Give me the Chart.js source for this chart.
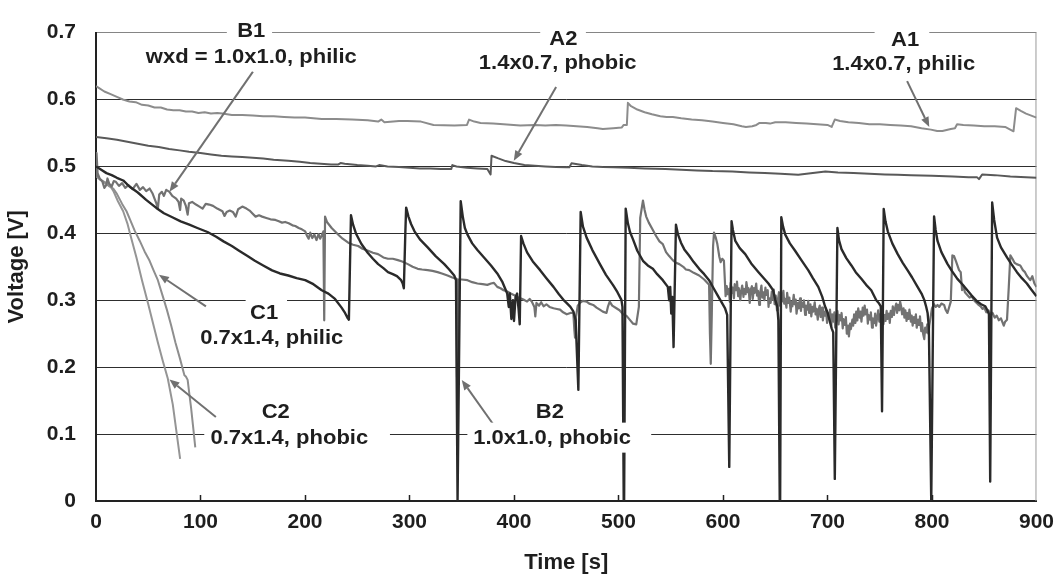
<!DOCTYPE html>
<html>
<head>
<meta charset="utf-8">
<title>Cell voltage vs time</title>
<script src="https://cdn.jsdelivr.net/npm/chart.js@4.4.1/dist/chart.umd.min.js"></script>
<style>
  html, body { margin: 0; padding: 0; background: #fff; }
  #voltageChart { display: block; }
</style>
</head>
<body>
<canvas id="voltageChart" width="1063" height="574"></canvas>
<script>
// Voltage traces, [time s, voltage V]

const A1_PHILIC = [
  [0,0.620],[3,0.617],[8,0.612],[14,0.608],[20,0.604],[25.7,0.600],[32,0.597],[38,0.596],[44,0.592],
  [50,0.591],[56,0.588],[62,0.588],[68,0.585],[74,0.584],[80,0.584],[86,0.582],[92,0.582],[98,0.580],
  [104,0.581],[110,0.579],[116,0.580],[121,0.579],[130,0.577],[140,0.577],[150,0.576],[160,0.575],
  [170,0.575],[180,0.574],[190,0.573],[200,0.573],[216,0.571],[230,0.571],[245,0.570],[260,0.569],
  [270,0.567],[273,0.570],[276,0.566],[290,0.568],[298,0.568],[311,0.567],[323,0.562],[343,0.561],
  [355,0.562],[357,0.570],[362,0.567],[368,0.565],[380,0.564],[390,0.563],[406,0.561],[420,0.562],
  [430,0.561],[440,0.562],[450,0.561],[460,0.560],[470,0.559],[480,0.557],[485,0.556],[495,0.557],
  [503,0.558],[505,0.562],[508,0.562],[509,0.595],[512,0.590],[518,0.585],[525,0.581],[532,0.578],
  [540,0.575],[546,0.574],[552,0.574],[560,0.572],[570,0.570],[580,0.569],[590,0.567],[600,0.565],
  [610,0.563],[618,0.560],[622,0.559],[628,0.560],[632,0.562],[635,0.565],[641,0.565],[645,0.564],
  [650,0.566],[660,0.566],[670,0.565],[680,0.564],[690,0.563],[700,0.562],[704,0.559],[707,0.570],
  [712,0.568],[720,0.566],[730,0.565],[740,0.563],[750,0.563],[760,0.562],[770,0.561],[780,0.560],
  [790,0.557],[799,0.555],[805,0.553],[810,0.553],[818,0.556],[822,0.557],[824,0.563],[830,0.562],
  [840,0.561],[850,0.560],[860,0.560],[870,0.559],[878,0.5525],[880.5,0.587],[885,0.583],
  [890,0.579],[895,0.576],[900,0.573]
];

const A2_PHOBIC = [
  [0,0.544],[10,0.542],[20,0.540],[30,0.537],[40,0.534],[50,0.531],[60,0.529],[70,0.526],[80,0.524],
  [89,0.522],[100,0.520],[110,0.518],[120,0.516],[130,0.515],[140,0.514],[150,0.513],[160,0.512],
  [170,0.510],[184,0.5085],[195,0.507],[205,0.505],[215,0.504],[225,0.503],[232,0.503],[234,0.505],
  [238,0.504],[250,0.502],[260,0.501],[268,0.500],[271,0.502],[279,0.500],[290,0.499],[300,0.498],
  [310,0.497],[320,0.497],[330,0.496],[340,0.496],[341,0.502],[345,0.500],[355,0.498],[365,0.497],
  [374.5,0.496],[377.6,0.488],[378.5,0.516],[385,0.512],[392,0.508],[400,0.505],[410,0.502],
  [420,0.501],[430,0.500],[440,0.499],[450,0.4987],[453,0.4987],[455,0.5046],[465,0.502],[475,0.500],
  [485,0.499],[495,0.4987],[510,0.498],[525,0.497],[545,0.4963],[560,0.495],[575,0.494],[590,0.493],
  [609,0.4924],[625,0.491],[640,0.490],[655,0.489],[672,0.4875],[680,0.489],[690,0.491],[698,0.4924],
  [710,0.491],[725,0.490],[740,0.489],[755,0.488],[767,0.4875],[780,0.487],[800,0.486],[820,0.485],
  [835,0.484],[843,0.484],[845,0.481],[848,0.488],[860,0.487],[875,0.485],[890,0.484],[900,0.483]
];

const B1_PHILIC = [
  [0,0.485],[0.5,0.520],[1.5,0.490],[3.5,0.482],[6,0.478],[8,0.468],[9.8,0.472],[11,0.482],[12.7,0.474],
  [15,0.470],[17,0.478],[19,0.477],[22,0.471],[25,0.475],[28,0.468],[31,0.472],[35,0.466],[38.7,0.474],
  [42,0.465],[45,0.469],[48,0.463],[51.3,0.467],[54,0.460],[56,0.452],[57.5,0.446],[59.2,0.437],
  [60.5,0.458],[63,0.462],[65,0.456],[67.2,0.465],[70.3,0.462],[73,0.456],[76.7,0.452],[79,0.447],
  [80.5,0.435],[81.5,0.452],[84,0.449],[86,0.441],[87.7,0.428],[89,0.445],[92,0.447],[95.7,0.443],
  [99,0.440],[102,0.437],[105,0.444],[108.3,0.443],[112,0.441],[116,0.437],[121,0.433],[123,0.426],
  [125,0.432],[128,0.434],[131,0.432],[133.7,0.425],[136,0.436],[140,0.440],[144,0.437],[147,0.434],
  [149.5,0.430],[152.7,0.425],[156,0.427],[159,0.425],[163,0.423],[167,0.421],[171.7,0.420],
  [175,0.418],[178,0.416],[181,0.417],[184.4,0.415],[188,0.412],[190.7,0.411],[194,0.408],[197,0.406],
  [200.2,0.403],[202,0.396],[203.5,0.392],[205,0.401],[207,0.393],[209,0.398],[211,0.390],[213,0.399],
  [214.5,0.392],[216,0.397],[217.6,0.403],[218.4,0.270],[219.2,0.425],[221,0.417],[225.5,0.408],
  [231.9,0.398],[236,0.392],[241.4,0.386],[246,0.383],[250.9,0.381],[255,0.377],[260.4,0.374],
  [265,0.371],[269.9,0.369],[275,0.364],[279.4,0.362],[284,0.362],[288.9,0.360],[293,0.358],
  [298.4,0.354],[303,0.350],[307.9,0.347],[312,0.346],[317.4,0.345],[322,0.344],[326.9,0.342],
  [331,0.340],[336.4,0.337],[341,0.334],[345,0.332],[345.5,0.185],[346.3,0.331],[350,0.331],
  [355.5,0.330],[360,0.327],[365,0.325],[370,0.324],[374.5,0.323],[378,0.325],[380.8,0.326],
  [384,0.320],[387.1,0.318],[390,0.315],[393.5,0.313],[397,0.310],[399.8,0.308],[403,0.305],
  [406.1,0.303],[409,0.301],[412.5,0.298],[415,0.302],[417,0.298],[419.5,0.290],[420.4,0.276],
  [421.5,0.296],[424,0.292],[426,0.297],[428.3,0.291],[431,0.294],[434,0.290],[437.8,0.288],
  [441,0.287],[444.1,0.286],[447,0.282],[450.5,0.279],[454,0.281],[456.8,0.281],[457.8,0.255],
  [458.4,0.244],[459.3,0.275],[461,0.292],[463.1,0.296],[466,0.299],[469.5,0.298],[472,0.295],
  [475.8,0.293],[479,0.289],[482.1,0.286],[485,0.283],[488.5,0.281],[490,0.291],[491.6,0.298],
  [494,0.292],[498,0.288],[501,0.285],[504.4,0.279],[507.5,0.277],[510.7,0.271],[514,0.265],
  [517,0.264],[519.5,0.290],[520.8,0.423],[523.4,0.449],[525,0.435],[526.5,0.425],[529,0.416],
  [532.9,0.405],[536,0.396],[539.2,0.388],[542.4,0.384],[545.5,0.372],[548.5,0.366],[551.9,0.360],
  [555,0.356],[558.2,0.354],[562,0.350],[564.5,0.346],[567.7,0.345],[572,0.341],[577.2,0.337],
  [582,0.331],[586.7,0.323],[587.5,0.250],[588.3,0.205],[589.3,0.280],[590.5,0.380],[591.4,0.401],
  [593,0.394],[594.6,0.384],[596.5,0.365],[597.8,0.357],[599.3,0.362],[600.9,0.359],[602.5,0.306],
  [603.6,0.321],[604.4,0.309],[605.7,0.317],[606.5,0.298],[607.4,0.326],[608.6,0.311],[609.3,0.319],
  [610.5,0.303],[611.2,0.324],[612.6,0.315],[613.4,0.328],[614.5,0.306],[615.1,0.318],[616.6,0.300],
  [617.3,0.313],[618.4,0.322],[619.6,0.305],[620.2,0.317],[621.7,0.309],[622.4,0.327],[623.8,0.312],
  [624.5,0.318],[625.6,0.296],[626.4,0.315],[627.7,0.321],[628.5,0.302],[629.6,0.318],[630.4,0.311],
  [631.8,0.325],[632.6,0.307],[633.5,0.314],[634.7,0.293],[635.4,0.309],[636.8,0.322],[637.6,0.304],
  [638.5,0.312],[639.7,0.300],[640.6,0.319],[641.4,0.308],[642.8,0.315],[643.6,0.290],[644.4,0.303],
  [645.6,0.296],[646.7,0.313],[647.5,0.301],[648.6,0.316],[649.4,0.294],[650.5,0.307],[651.7,0.285],
  [652.4,0.299],[653.6,0.312],[654.5,0.292],[655.7,0.305],[656.4,0.298],[657.8,0.314],[658.6,0.295],
  [659.5,0.302],[660.7,0.289],[661.4,0.311],[662.6,0.296],[663.5,0.304],[664.8,0.283],[665.6,0.298],
  [666.4,0.291],[667.7,0.308],[668.5,0.294],[669.6,0.301],[670.4,0.280],[671.7,0.296],[672.5,0.288],
  [673.8,0.303],[674.6,0.284],[675.4,0.297],[676.7,0.290],[677.5,0.300],[678.6,0.278],[679.4,0.292],
  [680.8,0.286],[681.6,0.299],[682.4,0.281],[683.7,0.294],[684.5,0.276],[685.6,0.290],[686.4,0.283],
  [687.8,0.297],[688.6,0.279],[689.5,0.287],[690.7,0.271],[691.5,0.286],[692.6,0.292],[693.4,0.275],
  [694.8,0.289],[695.6,0.270],[696.5,0.283],[697.7,0.277],[698.4,0.288],[699.6,0.266],[700.5,0.281],
  [701.7,0.273],[702.4,0.286],[703.6,0.262],[704.5,0.279],[705.8,0.268],[706.6,0.282],[707.4,0.259],
  [708.7,0.276],[709.5,0.284],[710.6,0.264],[711.4,0.278],[712.7,0.270],[713.5,0.281],[714.6,0.258],
  [715.4,0.272],[716.8,0.263],[717.6,0.275],[718.5,0.250],[719.7,0.262],[720.5,0.246],[721.6,0.265],
  [722.4,0.257],[723.8,0.271],[724.6,0.262],[725.5,0.279],[726.7,0.266],[727.5,0.283],[728.6,0.270],
  [729.4,0.288],[730.8,0.274],[731.6,0.283],[732.5,0.268],[733.7,0.289],[734.5,0.277],[735.6,0.292],
  [736.4,0.279],[737.8,0.286],[738.6,0.265],[739.5,0.278],[740.7,0.271],[741.5,0.282],[742.6,0.259],
  [743.4,0.273],[744.8,0.266],[745.6,0.280],[746.5,0.262],[747.7,0.276],[748.5,0.285],[749.6,0.268],
  [750.4,0.279],[751.8,0.258],[752.6,0.271],[753.5,0.264],[754.7,0.278],[755.5,0.269],[756.6,0.284],
  [757.4,0.272],[758.8,0.280],[759.6,0.266],[760.5,0.284],[761.7,0.275],[762.5,0.291],[763.6,0.278],
  [764.4,0.287],[765.8,0.295],[766.6,0.281],[767.5,0.293],[768.7,0.285],[769.5,0.298],[770.6,0.290],
  [771.4,0.279],[772.8,0.288],[773.6,0.274],[774.5,0.285],[775.7,0.269],[776.5,0.281],[777.6,0.272],
  [778.4,0.286],[779.8,0.268],[780.6,0.277],[781.5,0.262],[782.7,0.275],[783.5,0.266],[784.6,0.279],
  [785.4,0.259],[786.8,0.271],[787.6,0.263],[788.5,0.276],[789.7,0.254],[790.5,0.266],[791.6,0.249],
  [792.6,0.242],[793.5,0.259],[794.7,0.252],[795.5,0.264],[796.6,0.250],[797.4,0.262],[798.8,0.276],
  [800,0.288],[802,0.294],[803.5,0.290],[805.3,0.293],[807,0.290],[809,0.295],[811.6,0.293],
  [813,0.286],[814.8,0.281],[816.5,0.290],[818,0.298],[819.5,0.367],[821.1,0.366],[823,0.358],
  [825.9,0.345],[827.5,0.342],[828.8,0.315],[830,0.322],[831.5,0.312],[833.8,0.308],[836,0.304],
  [838,0.306],[840.2,0.300],[842,0.297],[844,0.294],[846.5,0.291],[848.5,0.287],[850,0.289],
  [852,0.282],[854,0.285],[856,0.279],[858,0.281],[860,0.274],[862,0.277],[864,0.270],[866,0.273],
  [868.7,0.262],[870,0.268],[871.8,0.271],[873.5,0.320],[875,0.367],[877,0.362],[879,0.356],
  [881,0.354],[884.5,0.352],[887,0.345],[889,0.342],[891,0.336],[894,0.330],[896,0.336],
  [898,0.325],[900,0.320]
];

const B2_PHOBIC = [
  [0,0.500],[5,0.495],[10,0.490],[15,0.487],[20,0.483],[26,0.479],[32,0.470],[40,0.461],[48,0.450],
  [57.7,0.438],[65,0.430],[73,0.424],[81,0.418],[89.3,0.413],[97,0.408],[106.7,0.402],[115,0.395],
  [122,0.388],[130,0.381],[136.9,0.374],[145,0.366],[152,0.359],[160,0.352],[168.5,0.3446],
  [176,0.340],[184,0.337],[192,0.333],[200.2,0.330],[208,0.324],[216,0.315],[222.4,0.310],
  [228.7,0.302],[235,0.289],[238.3,0.281],[241,0.273],[242,0.271],[243,0.350],[244,0.427],
  [246,0.413],[249,0.399],[254,0.384],[260,0.371],[265,0.362],[270,0.354],[275,0.348],[279.4,0.342],
  [284,0.339],[288,0.336],[292,0.330],[293.5,0.325],[294.6,0.318],[296,0.400],[296.8,0.4385],
  [299,0.425],[301.5,0.414],[304.8,0.403],[310,0.391],[317.4,0.379],[325,0.366],[333.3,0.354],
  [338,0.346],[342.8,0.337],[344.5,0.330],[346,0.000],[346.4,0.000],[349,0.448],[351,0.425],
  [353,0.408],[355.5,0.398],[360,0.385],[365,0.375],[371.3,0.364],[378,0.352],[384,0.340],
  [389,0.327],[393.5,0.310],[395,0.290],[396,0.310],[397.5,0.272],[399,0.300],[400,0.269],
  [401.5,0.305],[403,0.310],[404.5,0.285],[405.5,0.264],[406.8,0.396],[409,0.385],[412.5,0.3716],
  [418,0.358],[425,0.345],[431,0.333],[437.8,0.320],[443,0.309],[447.3,0.3006],[450.5,0.2957],
  [454,0.290],[456.8,0.2835],[459,0.270],[461.6,0.166],[463.8,0.432],[466,0.410],[469.5,0.3936],
  [475,0.375],[482.1,0.3544],[488,0.338],[494.8,0.3226],[499,0.312],[502.8,0.3006],[503.8,0.290],
  [505,0.000],[505.4,0.000],[506.9,0.437],[509,0.415],[511,0.402],[513.9,0.391],[518,0.374],
  [523.4,0.359],[528,0.352],[532.9,0.347],[537,0.339],[542.4,0.330],[547.2,0.320],[548.5,0.300],
  [549.5,0.320],[550.5,0.280],[551.5,0.305],[552.7,0.230],[555,0.413],[557,0.398],[559.8,0.386],
  [563,0.376],[567.7,0.3666],[572,0.357],[577.2,0.347],[582,0.339],[586.7,0.330],[591,0.318],
  [594.6,0.308],[599,0.296],[602,0.288],[604,0.278],[606,0.051],[608.2,0.418],[609.5,0.405],
  [611.8,0.3886],[616,0.378],[621.3,0.369],[627,0.355],[634,0.342],[643.5,0.325],[648,0.315],
  [650,0.3006],[652,0.290],[653,0.270],[654.3,0.000],[654.7,0.000],[655.8,0.424],[657.5,0.410],
  [659.6,0.398],[664,0.385],[669,0.374],[675,0.360],[681.7,0.3446],[686,0.333],[691.2,0.320],
  [695,0.305],[697.6,0.291],[700,0.282],[702,0.270],[704,0.258],[705.5,0.252],[707,0.033],
  [709.5,0.408],[711,0.390],[713.4,0.3764],[718,0.363],[722.9,0.352],[727,0.342],[732.4,0.332],
  [737,0.323],[741.9,0.315],[746.7,0.300],[749,0.296],[751,0.291],[752.2,0.134],[753.8,0.4366],
  [755.5,0.418],[757.7,0.403],[762,0.385],[767.2,0.369],[772,0.356],[776.7,0.3446],[781,0.334],
  [786.2,0.320],[790,0.310],[792.6,0.3006],[794.5,0.290],[795.8,0.281],[797,0.260],[799.3,0.000],
  [799.7,0.000],[802,0.4253],[803.5,0.405],[805.3,0.3886],[809,0.372],[814.8,0.3544],[819,0.344],
  [824.3,0.332],[829,0.324],[833.8,0.315],[838,0.307],[843.3,0.298],[847,0.294],[851,0.291],
  [853,0.285],[854.5,0.279],[855.7,0.029],[857.6,0.446],[859.5,0.420],[862.3,0.3936],[866,0.379],
  [871.8,0.364],[876,0.354],[881.3,0.342],[886,0.333],[890.8,0.325],[895,0.316],[900,0.306]
];

const C1_PHILIC = [
  [0,0.486],[3,0.482],[8,0.476],[12,0.471],[16.5,0.467],[20,0.459],[25,0.444],[29.2,0.433],
  [33,0.419],[37,0.404],[41.8,0.389],[46.5,0.373],[51.3,0.359],[55,0.345],[59.2,0.330],[63.5,0.308],
  [67.8,0.286],[72,0.262],[76,0.237],[80.5,0.212],[84.6,0.188],[86,0.186],[87.7,0.181],[89.5,0.158],
  [91,0.139],[93,0.110],[95,0.080]
];

const C2_PHOBIC = [
  [0,0.486],[4,0.480],[9,0.476],[13.3,0.472],[17,0.462],[21,0.448],[26,0.433],[30,0.415],[34,0.391],
  [38.7,0.364],[44,0.330],[49.7,0.296],[54.5,0.266],[59.2,0.237],[64,0.209],[68.7,0.183],[73.5,0.144],
  [77.3,0.100],[80.5,0.063]
];

const X_TICKS = [0, 100, 200, 300, 400, 500, 600, 700, 800, 900];
const Y_TICKS = [0, 0.1, 0.2, 0.3, 0.4, 0.5, 0.6, 0.7];

// Callout text, placed in data units; box gives the white knock-out span in seconds
const CALLOUTS = [
  { lines: [
      { text: 'B1', t: 148.6, v: 0.7035, box: [125.2, 168.5] },
      { text: 'wxd = 1.0x1.0, philic', t: 148.6, v: 0.6645 }
    ],
    arrow: [[150.2, 0.6416], [70.3, 0.462]] },
  { lines: [
      { text: 'A2', t: 447.3, v: 0.6915, box: [425.1, 468.8] },
      { text: '1.4x0.7, phobic', t: 441.8, v: 0.6553 }
    ],
    arrow: [[440.3, 0.6186], [399.8, 0.5085]] },
  { lines: [
      { text: 'A1', t: 774.3, v: 0.6895, box: [745.1, 797.4] },
      { text: '1.4x0.7, philic', t: 772.9, v: 0.6531 }
    ],
    arrow: [[776.2, 0.6274], [797.4, 0.5589]] },
  { lines: [
      { text: 'C1', t: 160.9, v: 0.281, box: [143.2, 182.8] },
      { text: '0.7x1.4, philic', t: 168.2, v: 0.2443 }
    ],
    arrow: [[105.2, 0.2909], [60.2, 0.3383]] },
  { lines: [
      { text: 'C2', t: 172, v: 0.1343 },
      { text: '0.7x1.4, phobic', t: 185, v: 0.0947, box: [103.6, 281.3] }
    ],
    arrow: [[114.7, 0.1255], [70.3, 0.1817]] },
  { lines: [
      { text: 'B2', t: 434.3, v: 0.1343 },
      { text: '1.0x1.0, phobic', t: 436.5, v: 0.0947, box: [355.4, 531.3] }
    ],
    arrow: [[382.3, 0.1098], [350, 0.1808]] }
];

const FONT = '"Liberation Sans", Arial, sans-serif';
const INK = '#1e1e1e';

const toPoints = pairs => pairs.map(([t, v]) => ({ x: t, y: v }));

function drawArrow(ctx, x0, y0, x1, y1) {
  const ang = Math.atan2(y1 - y0, x1 - x0);
  const len = 10, half = 4;
  const bx = x1 - len * Math.cos(ang), by = y1 - len * Math.sin(ang);
  ctx.beginPath();
  ctx.moveTo(x0, y0);
  ctx.lineTo(bx, by);
  ctx.stroke();
  ctx.beginPath();
  ctx.moveTo(x1, y1);
  ctx.lineTo(bx + half * Math.sin(ang), by - half * Math.cos(ang));
  ctx.lineTo(bx - half * Math.sin(ang), by + half * Math.cos(ang));
  ctx.closePath();
  ctx.fill();
}

const frameAndCallouts = {
  id: 'frameAndCallouts',
  beforeDatasetsDraw(chart) {
    const { ctx, chartArea: a, scales: { x } } = chart;
    ctx.save();
    // light right edge of the plot frame
    ctx.strokeStyle = '#9a9a9a';
    ctx.lineWidth = 1;
    ctx.beginPath();
    ctx.moveTo(a.right - 0.5, a.top);
    ctx.lineTo(a.right - 0.5, a.bottom);
    ctx.stroke();
    // short inward ticks on the time axis
    ctx.strokeStyle = '#222';
    ctx.lineWidth = 1.5;
    X_TICKS.slice(1, -1).forEach(t => {
      const px = Math.round(x.getPixelForValue(t)) + 0.5;
      ctx.beginPath();
      ctx.moveTo(px, a.bottom);
      ctx.lineTo(px, a.bottom - 6);
      ctx.stroke();
    });
    ctx.restore();
  },
  afterDatasetsDraw(chart) {
    const { ctx, scales: { x, y } } = chart;
    const stretch = 1.1;
    ctx.save();
    ctx.font = `bold 20px ${FONT}`;
    ctx.textAlign = 'center';
    ctx.textBaseline = 'middle';

    ctx.strokeStyle = '#707070';
    ctx.fillStyle = '#707070';
    ctx.lineWidth = 2;
    CALLOUTS.forEach(c => {
      const [[t0, v0], [t1, v1]] = c.arrow;
      drawArrow(ctx, x.getPixelForValue(t0), y.getPixelForValue(v0),
                     x.getPixelForValue(t1), y.getPixelForValue(v1));
    });

    // white knock-out behind each text line
    ctx.fillStyle = '#fff';
    CALLOUTS.forEach(c => c.lines.forEach(l => {
      const cx = x.getPixelForValue(l.t), cy = y.getPixelForValue(l.v);
      const w = ctx.measureText(l.text).width * stretch;
      const left = l.box ? x.getPixelForValue(l.box[0]) : cx - w / 2 - 4;
      const right = l.box ? x.getPixelForValue(l.box[1]) : cx + w / 2 + 4;
      ctx.fillRect(left, cy - 15, right - left, 30);
    }));

    ctx.fillStyle = INK;
    CALLOUTS.forEach(c => c.lines.forEach(l => {
      ctx.save();
      ctx.translate(x.getPixelForValue(l.t), y.getPixelForValue(l.v) + 1);
      ctx.scale(stretch, 1);
      ctx.fillText(l.text, 0, 0);
      ctx.restore();
    }));
    ctx.restore();
  }
};

const seriesStyle = (color, width) => ({
  borderColor: color,
  borderWidth: width,
  pointRadius: 0,
  fill: false,
  tension: 0,
  borderJoinStyle: 'round'
});

new Chart(document.getElementById('voltageChart').getContext('2d'), {
  type: 'line',
  data: {
    datasets: [
      { label: 'B2 1.0x1.0 phobic', data: toPoints(B2_PHOBIC), ...seriesStyle('#2a2a2a', 2.4) },
      { label: 'B1 1.0x1.0 philic', data: toPoints(B1_PHILIC), ...seriesStyle('#727272', 2.2) },
      { label: 'A2 1.4x0.7 phobic', data: toPoints(A2_PHOBIC), ...seriesStyle('#595959', 2) },
      { label: 'A1 1.4x0.7 philic', data: toPoints(A1_PHILIC), ...seriesStyle('#8c8c8c', 2) },
      { label: 'C1 0.7x1.4 philic', data: toPoints(C1_PHILIC), ...seriesStyle('#8e8e8e', 2) },
      { label: 'C2 0.7x1.4 phobic', data: toPoints(C2_PHOBIC), ...seriesStyle('#959595', 2) }
    ]
  },
  options: {
    responsive: false,
    animation: false,
    devicePixelRatio: 1,
    layout: { padding: { top: 24, right: 20, bottom: 0, left: 0 } },
    plugins: { legend: { display: false }, tooltip: { enabled: false } },
    scales: {
      x: {
        type: 'linear',
        min: 0,
        max: 900,
        afterFit: s => { s.height = 73; },
        afterBuildTicks: s => { s.ticks = X_TICKS.map(value => ({ value })); },
        grid: { display: false, drawTicks: false },
        border: { display: true, color: '#222', width: 2 },
        ticks: { color: INK, font: { family: FONT, size: 21, weight: 'bold' }, padding: 9, maxRotation: 0, autoSkip: false },
        title: { display: true, text: 'Time [s]', color: INK, font: { family: FONT, size: 22, weight: 'bold', lineHeight: 1 }, padding: 0 }
      },
      y: {
        min: 0,
        max: 0.7,
        afterFit: s => { s.width = 96; },
        afterBuildTicks: s => { s.ticks = Y_TICKS.map(value => ({ value })); },
        grid: {
          drawTicks: false,
          color: c => (c.tick && c.tick.value === 0.7) ? '#858585' : '#2e2e2e',
          lineWidth: 1
        },
        border: { display: true, color: '#222', width: 2 },
        ticks: { color: INK, font: { family: FONT, size: 21, weight: 'bold' }, padding: 20 },
        title: { display: true, text: 'Voltage [V]', color: INK, font: { family: FONT, size: 22, weight: 'bold', lineHeight: 1 }, padding: { top: 6, bottom: 0 } }
      }
    }
  },
  plugins: [frameAndCallouts]
});
</script>
</body>
</html>
